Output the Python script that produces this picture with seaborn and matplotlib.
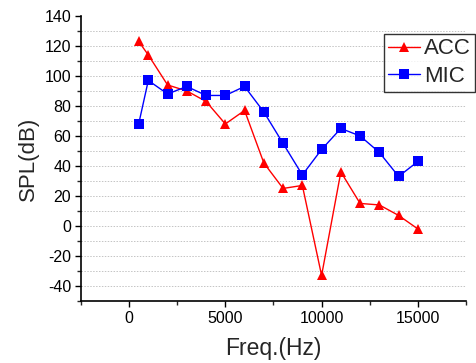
import pandas as pd
import matplotlib.pyplot as plt
import seaborn as sns
from matplotlib.ticker import MultipleLocator

# --- data ---
freq = [500, 1000, 2000, 3000, 4000, 5000, 6000, 7000, 8000, 9000,
        10000, 11000, 12000, 13000, 14000, 15000]
acc = [123, 114, 94, 90, 83, 68, 77, 42, 25, 27, -33, 36, 15, 14, 7, -2]
mic = [68, 97, 88, 93, 87, 87, 93, 76, 55, 34, 51, 65, 60, 49, 33, 43]

df = pd.DataFrame({'Freq': freq * 2,
                   'SPL': acc + mic,
                   'Source': ['ACC'] * len(freq) + ['MIC'] * len(freq)})

sns.set_style("white")
plt.rcParams['font.family'] = ['Liberation Sans', 'DejaVu Sans']
plt.rcParams['axes.unicode_minus'] = False

fig = plt.figure(figsize=(4.76, 3.63), dpi=100)
ax = fig.add_axes([0.170, 0.171, 0.809, 0.785])

sns.lineplot(data=df, x='Freq', y='SPL', hue='Source', style='Source',
             palette={'ACC': '#ff0000', 'MIC': '#0000ff'},
             markers={'ACC': '^', 'MIC': 's'}, dashes=False,
             markersize=7, markeredgewidth=0, linewidth=1, ax=ax)

ax.set_xlim(-2500, 17500)
ax.set_ylim(-50, 140)
ax.xaxis.set_major_locator(MultipleLocator(5000))
ax.xaxis.set_minor_locator(MultipleLocator(2500))
ax.yaxis.set_major_locator(MultipleLocator(20))
ax.yaxis.set_minor_locator(MultipleLocator(10))

# light dotted grid every 10 dB
for y in range(-40, 140, 10):
    ax.axhline(y, color='#c4c4c4', linestyle=(0, (1.5, 1.5)), linewidth=0.7, zorder=0)

ax.tick_params(which='major', direction='out', length=4, width=1, labelsize=11.5,
               bottom=True, left=True, colors='black', pad=3)
ax.tick_params(which='minor', direction='out', length=3, width=1,
               bottom=True, left=True)
for s in ['top', 'right']:
    ax.spines[s].set_visible(False)
for s in ['left', 'bottom']:
    ax.spines[s].set_color('black')
    ax.spines[s].set_linewidth(1.2)

ax.set_xlabel('Freq.(Hz)', fontsize=16.5, labelpad=8)
ax.set_ylabel('SPL(dB)', fontsize=16, labelpad=4)

leg = ax.legend(loc='upper left', bbox_to_anchor=(384 / 476, 1 - 34 / 363),
                bbox_transform=fig.transFigure, fontsize=16,
                frameon=True, fancybox=False, handlelength=1.4,
                handletextpad=0.2, borderpad=0.2, labelspacing=0.3,
                borderaxespad=0)
leg.get_frame().set_edgecolor('black')
leg.get_frame().set_linewidth(1)

plt.savefig('out.png', dpi=100)
plt.close()
